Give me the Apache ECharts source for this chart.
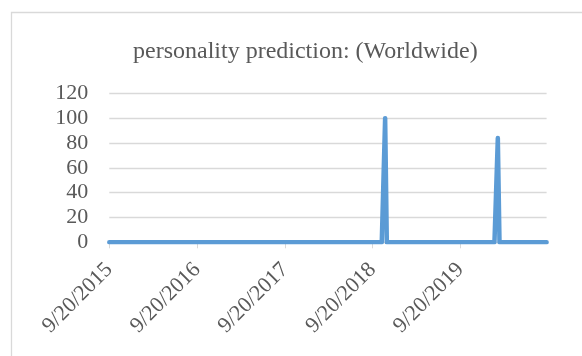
<!DOCTYPE html>
<html>
<head>
<meta charset="utf-8">
<script src="https://cdn.jsdelivr.net/npm/echarts@6/dist/echarts.min.js"></script>
<style>
  html, body { margin: 0; padding: 0; background: #ffffff; }
  #chart { width: 582px; height: 356px; }
</style>
</head>
<body>
<div id="chart"></div>
<script>
// Weekly search interest, Worldwide, 9/20/2015 – 9/13/2020
const titleText = 'personality prediction: (Worldwide)';
const startDate = '2015-09-20';
const weekCount = 261;

// one value per week
const weeklyValues = [
  0, 0, 0, 0, 0, 0, 0, 0, 0, 0, 0, 0, 0, 0, 0, 0, 0, 0, 0, 0,
  0, 0, 0, 0, 0, 0, 0, 0, 0, 0, 0, 0, 0, 0, 0, 0, 0, 0, 0, 0,
  0, 0, 0, 0, 0, 0, 0, 0, 0, 0, 0, 0, 0, 0, 0, 0, 0, 0, 0, 0,
  0, 0, 0, 0, 0, 0, 0, 0, 0, 0, 0, 0, 0, 0, 0, 0, 0, 0, 0, 0,
  0, 0, 0, 0, 0, 0, 0, 0, 0, 0, 0, 0, 0, 0, 0, 0, 0, 0, 0, 0,
  0, 0, 0, 0, 0, 0, 0, 0, 0, 0, 0, 0, 0, 0, 0, 0, 0, 0, 0, 0,
  0, 0, 0, 0, 0, 0, 0, 0, 0, 0, 0, 0, 0, 0, 0, 0, 0, 0, 0, 0,
  0, 0, 0, 0, 0, 0, 0, 0, 0, 0, 0, 0, 0, 0, 0, 0, 0, 0, 0, 0,
  0, 0, 0, 0, 100, 0, 0, 0, 0, 0, 0, 0, 0, 0, 0, 0, 0, 0, 0, 0,
  0, 0, 0, 0, 0, 0, 0, 0, 0, 0, 0, 0, 0, 0, 0, 0, 0, 0, 0, 0,
  0, 0, 0, 0, 0, 0, 0, 0, 0, 0, 0, 0, 0, 0, 0, 0, 0, 0, 0, 0,
  0, 0, 0, 0, 0, 0, 0, 0, 0, 0, 0, 84, 0, 0, 0, 0, 0, 0, 0, 0,
  0, 0, 0, 0, 0, 0, 0, 0, 0, 0, 0, 0, 0, 0, 0, 0, 0, 0, 0, 0,
  0
];

// axis tick dates
const tickDates = ['2015-09-20', '2016-09-20', '2017-09-20', '2018-09-20', '2019-09-20'];
const yTicks = [0, 20, 40, 60, 80, 100, 120];

const DAY = 86400000;
const toTime = s => {
  const [y, m, d] = s.split('-').map(Number);
  return Date.UTC(y, m - 1, d);
};
const t0 = toTime(startDate);
const weekDates = [];
for (let i = 0; i < weekCount; i++) weekDates.push(t0 + i * 7 * DAY);
const seriesData = weekDates.map((t, i) => [t, weeklyValues[i]]);
const tickTimes = tickDates.map(toTime);

const fmtDate = v => {
  const d = new Date(v);
  return (d.getUTCMonth() + 1) + '/' + d.getUTCDate() + '/' + d.getUTCFullYear();
};

const textColor = '#595959';
const gridColor = '#d9d9d9';
const serif = '"Liberation Serif", "Times New Roman", serif';

const chart = echarts.init(document.getElementById('chart'), null, { renderer: 'canvas' });
chart.setOption({
  animation: false,
  backgroundColor: '#ffffff',
  title: {
    text: titleText,
    left: 128,
    top: 35,
    textStyle: { fontFamily: serif, fontSize: 24, fontWeight: 'normal', color: textColor }
  },
  graphic: [{
    type: 'rect',
    shape: { x: 11.5, y: 12.5, width: 700, height: 500 },
    style: { fill: 'none', stroke: gridColor, lineWidth: 1.3 },
    silent: true,
    z: -1
  }],
  grid: { left: 109.3, right: 35.4, top: 93.3, bottom: 113.7 },
  xAxis: {
    type: 'value',
    min: t0,
    max: weekDates[weekDates.length - 1],
    splitLine: { show: false },
    axisLine: { show: true, lineStyle: { color: gridColor, width: 1 } },
    axisTick: { show: true, customValues: tickTimes, length: 6, lineStyle: { color: gridColor, width: 1 } },
    axisLabel: {
      customValues: tickTimes,
      formatter: v => fmtDate(v),
      rotate: 45,
      margin: 24,
      fontFamily: serif,
      fontSize: 22,
      color: textColor
    }
  },
  yAxis: {
    type: 'value',
    min: yTicks[0],
    max: yTicks[yTicks.length - 1],
    interval: 20,
    axisLine: { show: false },
    axisTick: { show: false },
    splitLine: { lineStyle: { color: gridColor, width: 1.3 } },
    axisLabel: { margin: 21, fontFamily: serif, fontSize: 22, color: textColor }
  },
  series: [{
    type: 'line',
    data: seriesData,
    showSymbol: false,
    symbol: 'none',
    lineStyle: { color: '#5B9BD5', width: 4.5, cap: 'round', join: 'round' },
    itemStyle: { color: '#5B9BD5' }
  }]
});
</script>
</body>
</html>
